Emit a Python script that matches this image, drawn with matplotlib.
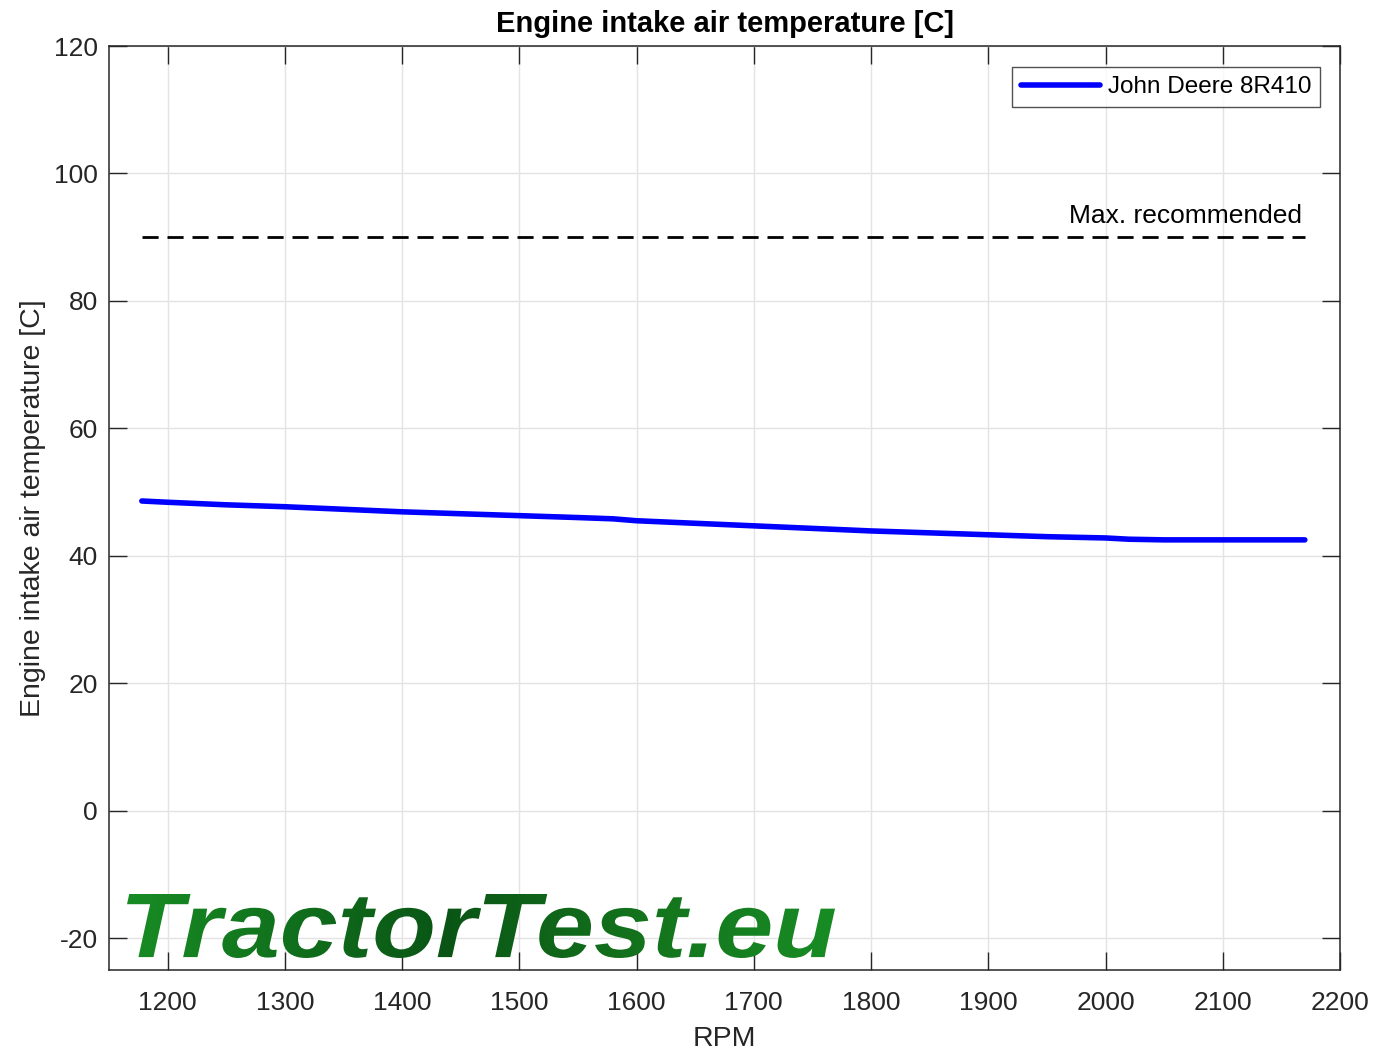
import matplotlib
matplotlib.use("Agg")
import matplotlib.pyplot as plt
import numpy as np
from matplotlib.textpath import TextPath
from matplotlib.patches import PathPatch
from matplotlib.font_manager import FontProperties
from matplotlib.transforms import Affine2D
from matplotlib.colors import LinearSegmentedColormap

plt.rcParams['font.family'] = ['Liberation Sans', 'DejaVu Sans']
plt.rcParams['axes.unicode_minus'] = False

# Data
rpm = [1178, 1200, 1250, 1300, 1350, 1400, 1450, 1500, 1550, 1580, 1600,
       1650, 1700, 1750, 1800, 1850, 1900, 1950, 2000, 2020, 2050, 2100, 2170]
temp = [48.6, 48.4, 48.0, 47.7, 47.3, 46.9, 46.6, 46.3, 46.0, 45.8, 45.5,
        45.1, 44.7, 44.3, 43.9, 43.6, 43.3, 43.0, 42.8, 42.6, 42.5, 42.5, 42.5]
max_rpm = [1178, 2170]
max_temp = [90, 90]
series_label = 'John Deere 8R410'

W, H = 1375, 1056
fig = plt.figure(figsize=(W / 100, H / 100), dpi=100)
ax = fig.add_axes([109/W, 1 - 970/H, (1340-109)/W, (970-46)/H])

ax.plot(rpm, temp, color='#0000ff', lw=4, label=series_label, solid_capstyle='round')
ax.plot(max_rpm, max_temp, color='black', lw=2, ls=(0, (5.8, 3.2)))
ax.text(2168, 91.4, 'Max. recommended', ha='right', va='bottom', fontsize=19, color='black')

ax.set_xlim(1150, 2200)
ax.set_ylim(-25, 120)
ax.set_xticks(np.arange(1200, 2201, 100))
ax.set_yticks(np.arange(-20, 121, 20))
ax.grid(True, color='#e3e3e3', lw=1)
ax.set_axisbelow(True)
ax.tick_params(direction='in', length=13, width=1, top=True, right=True,
               labelsize=19, colors='#262626')
ax.tick_params(axis='x', pad=15)
ax.tick_params(axis='y', pad=8)
for s in ax.spines.values():
    s.set_color('#262626')
    s.set_linewidth(1.1)

ax.set_title('Engine intake air temperature [C]', fontsize=21, fontweight='bold', pad=10)
ax.set_xlabel('RPM', fontsize=20.5, color='#262626', labelpad=8)
ax.set_ylabel('Engine intake air temperature [C]', fontsize=20.5, color='#262626', labelpad=6)

leg = ax.legend(loc='upper right', fontsize=17.5, frameon=True, fancybox=False,
                edgecolor='#262626', handlelength=3.25, handletextpad=0.3,
                borderpad=0.37, borderaxespad=0, bbox_to_anchor=(0.9838, 0.977))
leg.get_frame().set_linewidth(1)

# watermark: bold italic text stretched to the box and filled with a green gradient
wax = fig.add_axes([0, 0, 1, 1])
wax.set_xlim(0, W)
wax.set_ylim(0, H)
wax.axis('off')
fp = FontProperties(family='Liberation Sans', weight='bold', style='italic')
tp = TextPath((0, 0), 'TractorTest.eu', size=100, prop=fp)
bb = tp.get_extents()
x0, x1, ytop, ybot = 127, 835, 894, 958
tr = (Affine2D().translate(-bb.x0, -bb.y0)
      .scale((x1 - x0) / bb.width, (ybot - ytop) / bb.height)
      .translate(x0, H - ybot))
patch = PathPatch(tr.transform_path(tp), facecolor='none', edgecolor='none')
wax.add_patch(patch)
cmap = LinearSegmentedColormap.from_list(
    'wm', [(0, '#188c24'), (0.45, '#0a5515'), (0.7, '#13701c'), (1, '#188c24')])
grad = np.linspace(0, 1, 256).reshape(1, -1)
img = wax.imshow(grad, cmap=cmap, aspect='auto', extent=[x0, x1, H - ybot - 2, H - ytop + 2])
img.set_clip_path(patch)
wax.set_xlim(0, W)
wax.set_ylim(0, H)

fig.savefig('out.png', dpi=100)
